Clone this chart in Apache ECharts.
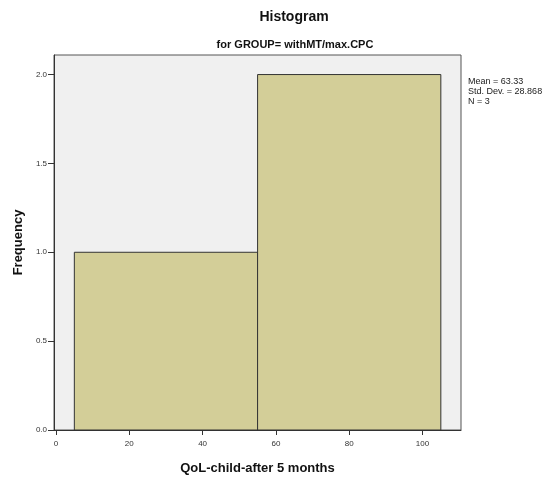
<!DOCTYPE html>
<html><head><meta charset="utf-8">
<script src="https://cdn.jsdelivr.net/npm/echarts@6/dist/echarts.min.js"></script>
<style>html,body{margin:0;padding:0;background:#fff}#c{width:552px;height:479px}</style>
</head><body><div id="c"></div>
<script>
var binStarts = [5, 55];
var binEnds = [55, 105];
var frequencies = [1, 2];
var xTicks = [0, 20, 40, 60, 80, 100];
var yTicks = [0, 0.5, 1.0, 1.5, 2.0];
var statsLines = ['Mean = 63.33', 'Std. Dev. = 28.868', 'N = 3'];

var data = binStarts.map(function (s, i) { return [s, binEnds[i], frequencies[i]]; });
var chart = echarts.init(document.getElementById('c'));
var font = 'Liberation Sans, Arial, sans-serif';
chart.setOption({
  animation: false,
  title: [
    {text: 'Histogram', left: 289, top: 5, textAlign: 'center',
     textStyle: {fontFamily: font, fontSize: 14, fontWeight: 'bold', color: '#111'}},
    {text: 'for GROUP= withMT/max.CPC', left: 290, top: 34, textAlign: 'center',
     textStyle: {fontFamily: font, fontSize: 11, fontWeight: 'bold', color: '#111'}}
  ],
  grid: {left: 54, right: 91, top: 55, bottom: 49, show: true, outerBoundsMode: 'none', containLabel: false,
         backgroundColor: '#f0f0f0', borderColor: '#555', borderWidth: 1},
  xAxis: {
    type: 'value', min: -0.55, max: 110.5,
    name: 'QoL-child-after 5 months', nameLocation: 'middle', nameGap: 32,
    nameTextStyle: {fontFamily: font, fontSize: 13, fontWeight: 'bold', color: '#111'},
    axisLine: {show: true, onZero: false, lineStyle: {color: '#333', width: 1}},
    axisTick: {show: true, length: 5, customValues: xTicks, lineStyle: {color: '#333'}},
    axisLabel: {customValues: xTicks, fontFamily: font, fontSize: 8, color: '#333', margin: 10},
    splitLine: {show: false}
  },
  yAxis: {
    type: 'value', min: 0, max: 2.11,
    name: 'Frequency', nameLocation: 'middle', nameGap: 29, nameRotate: 90,
    nameTextStyle: {fontFamily: font, fontSize: 13, fontWeight: 'bold', color: '#111'},
    axisLine: {show: true, onZero: false, lineStyle: {color: '#333', width: 1}},
    axisTick: {show: true, length: 6, customValues: yTicks, lineStyle: {color: '#333'}},
    axisLabel: {customValues: yTicks, fontFamily: font, fontSize: 8, color: '#333', margin: 7,
      formatter: function (v) { return v.toFixed(1); }},
    splitLine: {show: false}
  },
  series: [{
    type: 'custom',
    data: data,
    renderItem: function (params, api) {
      var p0 = api.coord([api.value(0), api.value(2)]);
      var p1 = api.coord([api.value(1), 0]);
      return {type: 'rect', shape: {x: p0[0], y: p0[1], width: p1[0] - p0[0], height: p1[1] - p0[1]},
        style: {fill: '#d3ce98', stroke: '#333', lineWidth: 1}};
    }
  }],
  graphic: [{
    type: 'text', left: 468, top: 77,
    style: {text: statsLines.join('\n'), fontFamily: font, fontSize: 9, lineHeight: 10, fill: '#222'}
  }]
});
</script></body></html>
